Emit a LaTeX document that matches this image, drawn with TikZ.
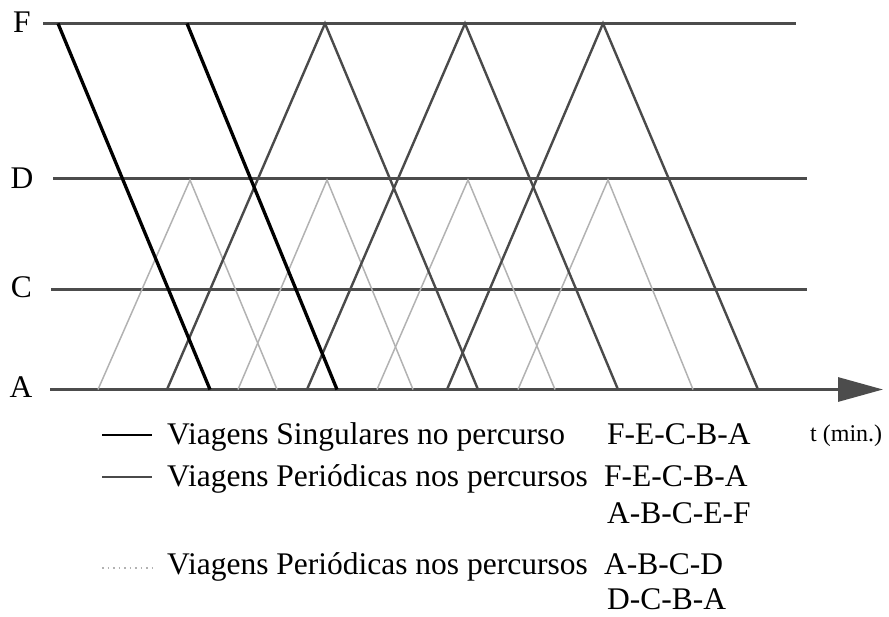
\documentclass[tikz,border=0pt]{standalone}
\usepackage{fontspec}
\setmainfont{Liberation Serif}
\usetikzlibrary{arrows.meta}
\definecolor{axisgray}{HTML}{4C4C4C}
\definecolor{pergray}{HTML}{4A4A4A}
\definecolor{lightline}{HTML}{B2B2B2}
\begin{document}
\begin{tikzpicture}[x=1pt,y=-1pt,
  level/.style={draw=axisgray,line width=3pt},
  singular/.style={draw=black,line width=3.3pt},
  periodic/.style={draw=pergray,line width=2.4pt},
  shortp/.style={draw=lightline,line width=1.5pt},
  lbl/.style={font=\fontsize{31.5}{36}\selectfont,inner sep=0pt},
  leg/.style={font=\fontsize{31.5}{36}\selectfont,inner sep=0pt,anchor=base west},
  tlab/.style={font=\fontsize{24}{28}\selectfont,inner sep=0pt,anchor=base west}
]
\useasboundingbox (0,0) rectangle (889,617);

% level lines
\coordinate (F0) at (43,23.5);  \coordinate (F1) at (796,23.5);
\coordinate (D0) at (53,179);   \coordinate (D1) at (807,179);
\coordinate (C0) at (51,290);   \coordinate (C1) at (807,290);
\coordinate (A0) at (50,389.5); \coordinate (Atip) at (883,389.5);

\node[lbl] (lF) at (22,22) {F};
\node[lbl] (lD) at (22,178) {D};
\node[lbl] (lC) at (21.5,287.5) {C};
\node[lbl] (lA) at (21,387) {A};

\draw[level] (F0) -- (F1);
\draw[level] (D0) -- (D1);
\draw[level] (C0) -- (C1);
\draw[level,-{Triangle[length=45pt,width=24pt,fill=axisgray]}] (A0) -- (Atip);

% short periodic trips A-B-C-D / D-C-B-A
\foreach \a/\p/\b [count=\i] in {98/190/277, 238/327/413, 377/468/555, 518/608/693}{
  \coordinate (la\i) at (\a,389.5);
  \coordinate (lp\i) at (\p,180);
  \coordinate (lb\i) at (\b,389.5);
  \draw[shortp] (la\i) -- (lp\i) -- (lb\i);
}

% periodic trips F-E-C-B-A / A-B-C-E-F
\foreach \a/\p/\b [count=\i] in {167/325/478, 307/465/618, 447/603/758}{
  \coordinate (pa\i) at (\a,389.5);
  \coordinate (pp\i) at (\p,23.5);
  \coordinate (pb\i) at (\b,389.5);
  \draw[periodic] (pa\i) -- (pp\i) -- (pb\i);
}

% singular trips F-E-C-B-A
\coordinate (s1F) at (58,23.5);  \coordinate (s1A) at (210,389.5);
\coordinate (s2F) at (187,23.5); \coordinate (s2A) at (337,389.5);
\draw[singular] (s1F) -- (s1A);
\draw[singular] (s2F) -- (s2A);

\node[tlab] (tl) at (810,442) {t (min.)};

% legend
\coordinate (g1a) at (102,435); \coordinate (g1b) at (152,435);
\coordinate (g2a) at (102,477); \coordinate (g2b) at (152,477);
\coordinate (g3a) at (102,568); \coordinate (g3b) at (152,568);
\draw[singular,line width=2.7pt] (g1a) -- (g1b);
\draw[periodic] (g2a) -- (g2b);
\draw[shortp,dash pattern=on 1.5pt off 4pt] (g3a) -- (g3b);

\node[leg] (t1) at (167,445) {Viagens Singulares no percurso};
\node[leg] (t2) at (167,486) {Viagens Periódicas nos percursos};
\node[leg] (t4) at (167,574) {Viagens Periódicas nos percursos};
\node[leg] (r1) at (607,445) {F-E-C-B-A};
\node[leg] (r2) at (604,486) {F-E-C-B-A};
\node[leg] (r3) at (607,523) {A-B-C-E-F};
\node[leg] (r4) at (604,574) {A-B-C-D};
\node[leg] (r5) at (607,609) {D-C-B-A};
\end{tikzpicture}
\end{document}
